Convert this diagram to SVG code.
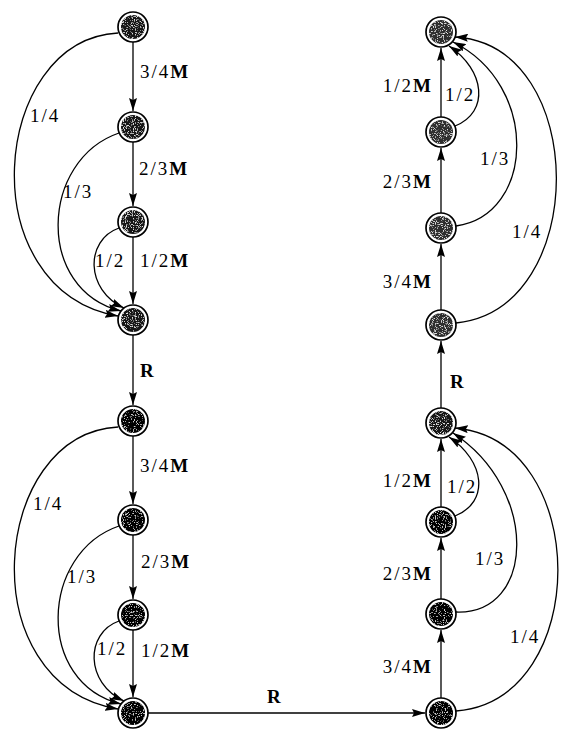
<svg xmlns="http://www.w3.org/2000/svg" width="563" height="729" viewBox="0 0 563 729">
<style>
.e{fill:none;stroke:#000;stroke-width:1.3;marker-end:url(#ah)}
.ring{fill:#fff;stroke:#000;stroke-width:1.7}
.d1{fill:#151515;filter:url(#grain)}
.d2{fill:#050505;filter:url(#grain2)}
.g1{fill:#2e2e2e;filter:url(#grain)}
.t{font-family:"Liberation Serif","Times New Roman",serif;font-size:19px;letter-spacing:2px;fill:#000}
.b{font-weight:bold}
.r{text-anchor:end}
</style>
<defs>
<marker id="ah" markerUnits="userSpaceOnUse" markerWidth="13" markerHeight="8" viewBox="0 0 13 8" refX="13" refY="4" orient="auto">
<path d="M0,0 L13,4 L0,8 L2,4 z" fill="#000"/>
</marker>
<filter id="grain" x="0" y="0" width="1" height="1">
<feTurbulence type="fractalNoise" baseFrequency="0.9" numOctaves="2" seed="4" result="n"/>
<feColorMatrix in="n" type="matrix" values="0 0 0 0 0.75 0 0 0 0 0.75 0 0 0 0 0.75 0 0 0 -6 2.7" result="w"/>
<feComposite in="w" in2="SourceGraphic" operator="in" result="ws"/>
<feMerge><feMergeNode in="SourceGraphic"/><feMergeNode in="ws"/></feMerge>
</filter>
<filter id="grain2" x="0" y="0" width="1" height="1">
<feTurbulence type="fractalNoise" baseFrequency="0.9" numOctaves="2" seed="7" result="n"/>
<feColorMatrix in="n" type="matrix" values="0 0 0 0 0.6 0 0 0 0 0.6 0 0 0 0 0.6 0 0 0 -7 2.9" result="w"/>
<feComposite in="w" in2="SourceGraphic" operator="in" result="ws"/>
<feMerge><feMergeNode in="SourceGraphic"/><feMergeNode in="ws"/></feMerge>
</filter>
</defs>
<g id="connectors">
<path class="e" d="M133,42 L133,111"/>
<path class="e" d="M133,142 L133,206"/>
<path class="e" d="M133,237 L133,304"/>
<path class="e" d="M133,335 L133,405"/>
<path class="e" d="M118,33 C -10,40 -30,290 118,316"/>
<path class="e" d="M119,133 C 40,160 35,290 121,311"/>
<path class="e" d="M119,228 C 85,240 85,290 124,308"/>
<path class="e" d="M133,436 L133,504"/>
<path class="e" d="M133,535 L133,599"/>
<path class="e" d="M133,630 L133,697"/>
<path class="e" d="M118,427 C -10,434 -30,684 118,709"/>
<path class="e" d="M119,526 C 40,553 35,683 121,704"/>
<path class="e" d="M119,621 C 85,633 85,683 124,701"/>
<path class="e" d="M148,713 L425,713"/>
<path class="e" d="M441,698 L441,630"/>
<path class="e" d="M441,599 L441,538"/>
<path class="e" d="M441,507 L441,439"/>
<path class="e" d="M441,408 L441,341"/>
<path class="e" d="M441,310 L441,244"/>
<path class="e" d="M441,213 L441,148"/>
<path class="e" d="M441,117 L441,48"/>
<path class="e" d="M455,126 C 490,112 485,70 449,46"/>
<path class="e" d="M456,226 C 535,215 540,85 453,42"/>
<path class="e" d="M456,323 C 590,310 590,45 455,37"/>
<path class="e" d="M455,516 C 490,502 485,461 449,437"/>
<path class="e" d="M456,612 C 535,615 540,490 453,433"/>
<path class="e" d="M456,711 C 592,700 592,440 455,428"/>
</g>
<g id="L1"><circle class="ring" cx="133" cy="27" r="15"/><circle class="d1" cx="133" cy="27" r="12"/></g>
<g id="L2"><circle class="ring" cx="133" cy="127" r="15"/><circle class="d1" cx="133" cy="127" r="12"/></g>
<g id="L3"><circle class="ring" cx="133" cy="222" r="15"/><circle class="d1" cx="133" cy="222" r="12"/></g>
<g id="L4"><circle class="ring" cx="133" cy="320" r="15"/><circle class="d1" cx="133" cy="320" r="12"/></g>
<g id="L5"><circle class="ring" cx="133" cy="421" r="15"/><circle class="d2" cx="133" cy="421" r="12"/></g>
<g id="L6"><circle class="ring" cx="133" cy="520" r="15"/><circle class="d2" cx="133" cy="520" r="12"/></g>
<g id="L7"><circle class="ring" cx="133" cy="615" r="15"/><circle class="d2" cx="133" cy="615" r="12"/></g>
<g id="L8"><circle class="ring" cx="133" cy="713" r="15"/><circle class="d2" cx="133" cy="713" r="12"/></g>
<g id="R1"><circle class="ring" cx="441" cy="32" r="15"/><circle class="g1" cx="441" cy="32" r="12"/></g>
<g id="R2"><circle class="ring" cx="441" cy="132" r="15"/><circle class="g1" cx="441" cy="132" r="12"/></g>
<g id="R3"><circle class="ring" cx="441" cy="228" r="15"/><circle class="g1" cx="441" cy="228" r="12"/></g>
<g id="R4"><circle class="ring" cx="441" cy="325" r="15"/><circle class="g1" cx="441" cy="325" r="12"/></g>
<g id="R5"><circle class="ring" cx="441" cy="423" r="15"/><circle class="d1" cx="441" cy="423" r="12"/></g>
<g id="R6"><circle class="ring" cx="441" cy="522" r="15"/><circle class="d2" cx="441" cy="522" r="12"/></g>
<g id="R7"><circle class="ring" cx="441" cy="614" r="15"/><circle class="d2" cx="441" cy="614" r="12"/></g>
<g id="R8"><circle class="ring" cx="441" cy="713" r="15"/><circle class="d2" cx="441" cy="713" r="12"/></g>
<g id="labels">
<text class="t" x="140" y="78">3/4<tspan class="b">M</tspan></text>
<text class="t" x="139" y="175">2/3<tspan class="b">M</tspan></text>
<text class="t" x="140" y="267">1/2<tspan class="b">M</tspan></text>
<text class="t" x="30" y="122">1/4</text>
<text class="t" x="63" y="198">1/3</text>
<text class="t" x="95" y="267">1/2</text>
<text class="t b" x="140" y="377">R</text>
<text class="t" x="140" y="472">3/4<tspan class="b">M</tspan></text>
<text class="t" x="141" y="568">2/3<tspan class="b">M</tspan></text>
<text class="t" x="141" y="657">1/2<tspan class="b">M</tspan></text>
<text class="t" x="33" y="510">1/4</text>
<text class="t" x="67" y="583">1/3</text>
<text class="t" x="97" y="655">1/2</text>
<text class="t b" x="267" y="703">R</text>
<text class="t r" x="433" y="92">1/2<tspan class="b">M</tspan></text>
<text class="t r" x="433" y="188">2/3<tspan class="b">M</tspan></text>
<text class="t r" x="433" y="288">3/4<tspan class="b">M</tspan></text>
<text class="t" x="445" y="101">1/2</text>
<text class="t" x="480" y="165">1/3</text>
<text class="t" x="512" y="238">1/4</text>
<text class="t b" x="450" y="388">R</text>
<text class="t r" x="433" y="487">1/2<tspan class="b">M</tspan></text>
<text class="t r" x="433" y="580">2/3<tspan class="b">M</tspan></text>
<text class="t r" x="433" y="673">3/4<tspan class="b">M</tspan></text>
<text class="t" x="447" y="493">1/2</text>
<text class="t" x="475" y="565">1/3</text>
<text class="t" x="510" y="643">1/4</text>
</g>
</svg>
